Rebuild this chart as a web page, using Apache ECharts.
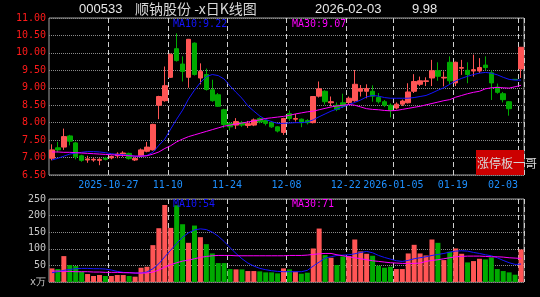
<!DOCTYPE html>
<html><head><meta charset="utf-8">
<script src="https://cdn.jsdelivr.net/npm/echarts@6/dist/echarts.min.js"></script>
<style>html,body{margin:0;padding:0;background:#000;}#c{width:540px;height:297px;}</style>
</head><body><div id="c"></div>
<script>
// ---- data ----
const dates = ['2025-10-13','2025-10-14','2025-10-15','2025-10-16','2025-10-17','2025-10-20','2025-10-21','2025-10-22','2025-10-23','2025-10-24',
'2025-10-27','2025-10-28','2025-10-29','2025-10-30','2025-10-31','2025-11-03','2025-11-04','2025-11-05','2025-11-06','2025-11-07',
'2025-11-10','2025-11-11','2025-11-12','2025-11-13','2025-11-14','2025-11-17','2025-11-18','2025-11-19','2025-11-20','2025-11-21',
'2025-11-24','2025-11-25','2025-11-26','2025-11-27','2025-11-28','2025-12-01','2025-12-02','2025-12-03','2025-12-04','2025-12-05',
'2025-12-08','2025-12-09','2025-12-10','2025-12-11','2025-12-12','2025-12-15','2025-12-16','2025-12-17','2025-12-18','2025-12-19',
'2025-12-22','2025-12-23','2025-12-24','2025-12-25','2025-12-26','2025-12-29','2025-12-30','2025-12-31','2026-01-05','2026-01-06',
'2026-01-07','2026-01-08','2026-01-09','2026-01-12','2026-01-13','2026-01-14','2026-01-15','2026-01-16','2026-01-19','2026-01-20',
'2026-01-21','2026-01-22','2026-01-23','2026-01-26','2026-01-27','2026-01-28','2026-01-29','2026-01-30','2026-02-02','2026-02-03'];
const opens = [6.98,7.28,7.30,7.62,7.42,7.05,6.93,6.93,6.92,6.98, 6.99,7.05,7.10,7.12,6.93,7.05,7.18,7.22,8.50,8.63,
 9.30,10.12,9.68,9.30,10.28,9.28,9.38,8.94,8.80,8.37, 7.98,7.93,8.00,7.92,7.93,8.12,8.06,8.00,7.88,7.72,
 8.26,8.10,8.10,8.06,8.00,8.76,8.90,8.57,8.50,8.57, 8.58,8.63,8.90,8.90,8.90,8.72,8.60,8.50,8.42,8.53,
 8.57,8.90,9.10,9.18,9.28,9.49,9.28,9.73,9.14,9.56, 9.50,9.48,9.48,9.65,9.43,9.02,8.83,8.60,9.24,9.54];
const closes = [7.22,7.22,7.60,7.47,7.02,6.92,6.96,6.95,6.95,6.95, 7.03,7.10,7.13,6.97,6.97,7.22,7.30,7.95,8.75,9.06,
 9.96,9.78,9.47,10.39,9.38,9.47,8.95,8.63,8.47,7.95, 7.88,8.03,7.93,7.97,8.08,8.02,7.98,7.88,7.76,8.12,
 8.12,8.12,8.00,8.00,8.75,8.97,8.60,8.60,8.38,8.47, 8.70,9.10,8.98,8.98,8.76,8.60,8.50,8.35,8.53,8.62,
 8.88,9.18,9.20,9.20,9.49,9.33,9.30,9.20,9.73,9.58, 9.38,9.52,9.58,9.58,9.14,8.87,8.66,8.40,9.24,10.16];
const lows = [6.92,7.15,7.22,7.35,6.95,6.88,6.85,6.88,6.78,6.92, 6.95,6.98,7.02,6.94,6.90,7.02,7.15,7.20,8.10,8.60,
 9.28,9.75,9.18,9.00,9.35,9.10,8.92,8.60,8.45,7.85, 7.78,7.82,7.88,7.85,7.90,7.98,7.92,7.85,7.72,7.65,
 8.05,8.03,7.87,7.95,7.98,8.72,8.52,8.47,8.33,8.42, 8.52,8.60,8.75,8.70,8.60,8.55,8.45,8.15,8.38,8.48,
 8.55,8.85,9.05,9.05,9.05,9.20,9.04,9.10,9.05,9.37, 9.13,9.32,9.42,9.50,8.65,8.83,8.58,8.20,9.24,9.28];
const highs = [7.38,7.45,7.83,7.65,7.45,7.08,7.05,7.00,6.98,7.02, 7.06,7.15,7.18,7.14,7.00,7.26,7.45,7.97,8.77,9.61,
 9.98,10.56,9.90,10.40,10.30,9.70,9.55,9.23,8.85,8.40, 8.00,8.13,8.05,8.05,8.12,8.15,8.10,8.05,7.90,8.14,
 8.35,8.25,8.12,8.10,8.76,9.18,8.93,8.75,8.58,8.83, 8.75,9.51,9.08,9.10,9.07,8.85,8.65,8.55,8.58,8.66,
 9.13,9.39,9.32,9.30,9.80,9.73,9.47,9.90,9.75,9.80, 9.73,9.95,9.85,9.90,9.50,9.12,8.88,8.62,9.24,10.17];
const volumes = [41,39,78,51,48,31,24,18,21,18, 18,21,21,18,16,43,46,111,162,232,
 163,231,174,118,170,135,114,86,57,57, 39,38,38,33,33,32,29,29,26,41,
 38,31,25,28,101,161,81,73,51,77, 78,128,92,85,79,49,43,46,39,39,
 86,112,86,80,128,118,66,91,101,85, 59,63,70,68,74,39,33,29,22,98];
const ma10 = [6.93,6.98,7.04,7.10,7.13,7.15,7.17,7.17,7.16,7.14, 7.11,7.09,7.08,7.06,7.04,7.04,7.06,7.15,7.35,7.53,
 7.82,8.10,8.36,8.68,8.93,9.15,9.32,9.38,9.35,9.25, 9.05,8.87,8.70,8.48,8.33,8.19,8.09,8.03,7.98,7.98,
 7.99,8.00,8.00,8.02,8.08,8.17,8.25,8.33,8.39,8.45, 8.52,8.58,8.65,8.74,8.78,8.76,8.72,8.70,8.70,8.70,
 8.70,8.72,8.75,8.78,8.85,8.93,9.00,9.10,9.20,9.27, 9.33,9.38,9.42,9.44,9.42,9.37,9.30,9.24,9.22,9.22];
const ma30 = [7.16,7.16,7.15,7.15,7.14,7.13,7.12,7.11,7.10,7.09, 7.08,7.07,7.06,7.05,7.04,7.04,7.05,7.10,7.16,7.26,
 7.34,7.45,7.53,7.60,7.65,7.70,7.75,7.80,7.85,7.90, 7.93,7.96,7.99,8.02,8.05,8.08,8.12,8.14,8.16,8.18,
 8.21,8.25,8.28,8.31,8.33,8.37,8.41,8.45,8.48,8.50, 8.52,8.50,8.45,8.40,8.38,8.37,8.35,8.34,8.35,8.38,
 8.41,8.44,8.47,8.51,8.55,8.59,8.63,8.66,8.73,8.78, 8.83,8.87,8.90,8.97,9.00,9.01,9.00,8.99,9.03,9.07];
const volMa10 = [28,31,35,38,40,41,41,40,40,39, 36,32,29,28,27,27,30,40,55,76,
 96,116,135,148,157,160,158,150,138,122, 103,86,70,57,48,41,37,34,32,31,
 31,31,31,35,48,60,72,76,80,81, 82,85,89,92,88,80,74,69,64,62,
 65,70,73,76,80,83,86,90,93,94, 93,89,86,82,79,73,65,58,53,54];
const volMa30 = [33,33,32,32,31,31,31,30,30,29, 29,29,28,28,27,27,27,30,36,45,
 52,58,63,66,70,74,77,79,80,80, 80,79,79,79,79,79,79,79,79,79,
 80,80,80,81,83,85,86,86,82,79, 76,73,70,67,64,62,60,58,57,56,
 56,56,57,62,65,67,70,73,76,77, 78,78,78,77,76,76,75,73,72,71];
const tickDates = ['2025-10-27','2025-11-10','2025-11-24','2025-12-08','2025-12-22','2026-01-05','2026-01-19','2026-02-03'];
const tickLabels = ['2025-10-27','11-10','11-24','12-08','12-22','2026-01-05','01-19','02-03'];
const stockCode = '000533', stockName = '顺钠股份 -x日K线图', lastDate = '2026-02-03', lastPrice = '9.98';
const watermark = '涨停板一哥';

// ---- styles ----
const RED = '#ff5555', GREEN = '#00aa00', BLUE = '#1414ff', MAG = '#ff00ff';
const MONO = 'DejaVu Sans Mono';
const tickIdx = new Set(tickDates.map(d => dates.indexOf(d)));
const lastTick = dates.indexOf(tickDates[tickDates.length - 1]);
const candleData = dates.map((d, i) => [opens[i], closes[i], lows[i], highs[i]]);
const volData = volumes.map((v, i) => ({ value: v, itemStyle: { color: closes[i] > opens[i] ? RED : GREEN } }));
const vSplit = { show: true, interval: (i) => tickIdx.has(i), lineStyle: { color: '#d0d0d0', type: [5, 3], width: 1 } };
const hSplit = { show: true, lineStyle: { color: '#8a8a8a', type: [1, 1], width: 1 } };
const last = dates.length - 1;

const chart = echarts.init(document.getElementById('c'), null, { renderer: 'canvas' });
chart.setOption({
  animation: false,
  backgroundColor: '#000',
  grid: [
    { left: 49, right: 16, top: 18, height: 157, show: true, borderColor: '#a0a0a0', borderWidth: 1, backgroundColor: 'transparent' },
    { left: 49, right: 16, top: 199, height: 83, show: true, borderColor: '#a0a0a0', borderWidth: 1, backgroundColor: 'transparent' }
  ],
  xAxis: [
    { type: 'category', gridIndex: 0, data: dates, boundaryGap: true,
      axisLine: { show: false }, axisTick: { show: false }, splitLine: vSplit,
      axisLabel: { show: true, interval: (i) => tickIdx.has(i), color: '#1e90ff', fontFamily: MONO, fontSize: 10, margin: 5,
        padding: [0, 6, 0, 0],
        formatter: (v, i) => { const k = tickDates.indexOf(v); const t = tickLabels[k]; return v === tickDates[tickDates.length-1] ? '{r|' + t + '}' : t; },
        rich: { r: { color: '#1e90ff', fontFamily: MONO, fontSize: 10, padding: [0, 30, 0, 0] } } } },
    { type: 'category', gridIndex: 1, data: dates, boundaryGap: true,
      axisLine: { show: false }, axisTick: { show: false }, axisLabel: { show: false }, splitLine: vSplit }
  ],
  yAxis: [
    { type: 'value', gridIndex: 0, min: 6.5, max: 11, interval: 0.5, scale: true,
      axisLine: { show: false }, axisTick: { show: false }, splitLine: hSplit,
      axisLabel: { color: '#ff1a1a', fontFamily: MONO, fontSize: 10, margin: 3, formatter: v => v.toFixed(2) } },
    { type: 'value', gridIndex: 1, min: 0, max: 250, interval: 50,
      axisLine: { show: false }, axisTick: { show: false }, splitLine: hSplit,
      axisLabel: { color: '#c8c8c8', fontFamily: MONO, fontSize: 10, margin: 3, formatter: v => v === 0 ? 'x万' : String(v) } }
  ],
  series: [
    { type: 'candlestick', xAxisIndex: 0, yAxisIndex: 0, data: candleData, barWidth: 5,
      itemStyle: { color: RED, color0: GREEN, borderColor: RED, borderColor0: GREEN, borderColorDoji: GREEN, borderWidth: 1 } },
    { type: 'line', xAxisIndex: 0, yAxisIndex: 0, data: ma10, symbol: 'none', lineStyle: { color: BLUE, width: 1 } },
    { type: 'line', xAxisIndex: 0, yAxisIndex: 0, data: ma30, symbol: 'none', lineStyle: { color: MAG, width: 1 } },
    { type: 'bar', xAxisIndex: 1, yAxisIndex: 1, data: volData, barWidth: 5 },
    { type: 'line', xAxisIndex: 1, yAxisIndex: 1, data: volMa10, symbol: 'none', lineStyle: { color: BLUE, width: 1 } },
    { type: 'line', xAxisIndex: 1, yAxisIndex: 1, data: volMa30, symbol: 'none', lineStyle: { color: MAG, width: 1 } }
  ],
  graphic: [
    { type: 'text', x: 79, y: 9, style: { text: stockCode, fill: '#e8e8e8', font: '13px "Liberation Sans"', textVerticalAlign: 'middle' } },
    { type: 'text', x: 135, y: 9, style: { text: stockName, fill: '#d8d8d8', font: '14px "Noto Sans CJK SC"', textVerticalAlign: 'middle' } },
    { type: 'text', x: 315, y: 9, style: { text: lastDate, fill: '#e8e8e8', font: '13px "Liberation Sans"', textVerticalAlign: 'middle' } },
    { type: 'text', x: 412, y: 9, style: { text: lastPrice, fill: '#e8e8e8', font: '13px "Liberation Sans"', textVerticalAlign: 'middle' } },
    { type: 'text', x: 173, y: 24, z: 100, style: { text: 'MA10:' + ma10[last].toFixed(2), fill: BLUE, font: '10px "DejaVu Sans Mono"', textVerticalAlign: 'middle' } },
    { type: 'text', x: 292, y: 24, z: 100, style: { text: 'MA30:' + ma30[last].toFixed(2), fill: MAG, font: '10px "DejaVu Sans Mono"', textVerticalAlign: 'middle' } },
    { type: 'text', x: 173, y: 204, z: 100, style: { text: 'MA10:' + volMa10[last], fill: BLUE, font: '10px "DejaVu Sans Mono"', textVerticalAlign: 'middle' } },
    { type: 'text', x: 292, y: 204, z: 100, style: { text: 'MA30:' + volMa30[last], fill: MAG, font: '10px "DejaVu Sans Mono"', textVerticalAlign: 'middle' } },
    { type: 'rect', z: 100, shape: { x: 476, y: 150, width: 48, height: 25 }, style: { fill: '#cc0000' } },
    { type: 'text', x: 477, y: 163, z: 101, style: { text: watermark, fill: '#d8d8d8', font: '12px "Noto Sans CJK SC"', textVerticalAlign: 'middle' } }
  ]
});
</script>
</body></html>
